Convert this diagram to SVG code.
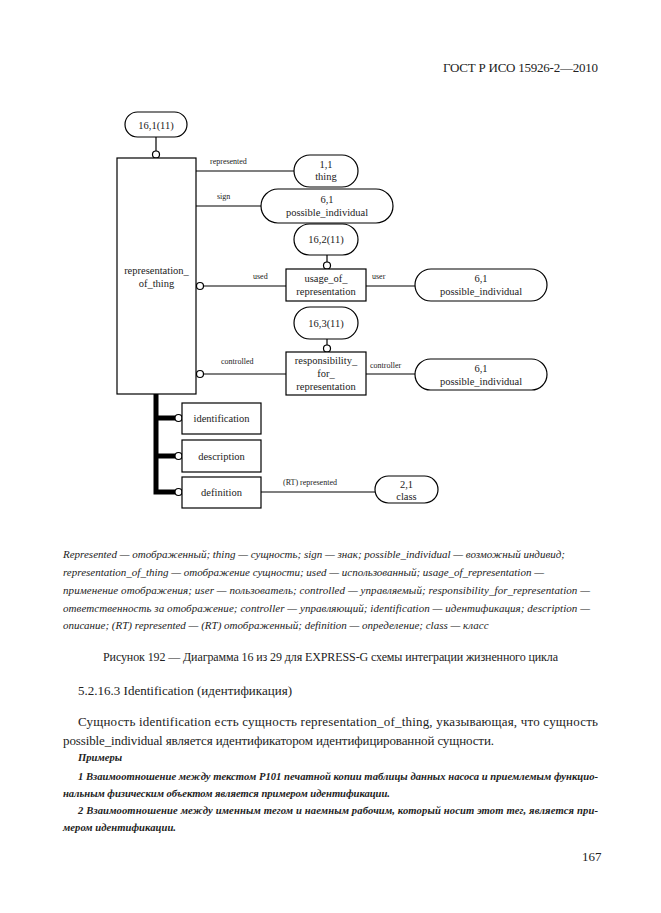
<svg xmlns="http://www.w3.org/2000/svg" width="661" height="913" viewBox="0 0 661 913">
<style>
.bx{fill:#fff;stroke:#000;stroke-width:1.2}
.ln{fill:none;stroke:#000;stroke-width:1.2}
.th{fill:none;stroke:#000;stroke-width:5}
.ci{fill:#fff;stroke:#000;stroke-width:1.2}
.t{font-family:"Liberation Serif",serif;font-size:10.5px;fill:#222;text-anchor:middle}
.lb{font-family:"Liberation Serif",serif;font-size:8px;fill:#222}
.fn{font-family:"Liberation Serif",serif;font-size:11px;font-style:italic;fill:#222}
.bd{font-family:"Liberation Serif",serif;font-size:13px;fill:#222}
.ex{font-family:"Liberation Serif",serif;font-size:10.6px;font-style:italic;font-weight:bold;fill:#222}
</style>
<rect width="661" height="913" fill="#fff"/>
<text class="bd" x="443" y="72" textLength="155">ГОСТ Р ИСО 15926-2—2010</text>

<g id="connectors">
<line class="ln" x1="156" y1="137" x2="156" y2="151"/>
<line class="ln" x1="196" y1="171" x2="294" y2="171"/>
<line class="ln" x1="196" y1="206" x2="261" y2="206"/>
<line class="ln" x1="203.5" y1="286" x2="286" y2="286"/>
<line class="ln" x1="366" y1="286" x2="415" y2="286"/>
<line class="ln" x1="327" y1="255" x2="327" y2="262"/>
<line class="ln" x1="203.5" y1="374" x2="286" y2="374"/>
<line class="ln" x1="366" y1="374" x2="415" y2="374"/>
<line class="ln" x1="327" y1="339" x2="327" y2="345"/>
<line class="ln" x1="261" y1="492" x2="375" y2="492"/>
<path class="th" d="M156 394 V492 H175 M156 418 H175 M156 456 H175"/>
<circle class="ci" cx="156" cy="154.5" r="3.5"/>
<circle class="ci" cx="200" cy="286" r="3.5"/>
<circle class="ci" cx="200" cy="374" r="3.5"/>
<circle class="ci" cx="327" cy="265.5" r="3.5"/>
<circle class="ci" cx="327" cy="348.5" r="3.5"/>
<circle class="ci" cx="178.5" cy="418" r="3.5"/>
<circle class="ci" cx="178.5" cy="456" r="3.5"/>
<circle class="ci" cx="178.5" cy="492" r="3.5"/>
<text class="lb" x="210" y="164">represented</text>
<text class="lb" x="217" y="199">sign</text>
<text class="lb" x="253" y="279">used</text>
<text class="lb" x="372" y="279">user</text>
<text class="lb" x="221" y="364">controlled</text>
<text class="lb" x="370" y="368">controller</text>
<text class="lb" x="283" y="485">(RT) represented</text>
</g>

<g id="n161">
<rect class="bx" x="125" y="112" width="62" height="25" rx="12.5"/>
<text class="t" x="156" y="129">16,1(11)</text>
</g>
<g id="representation_of_thing">
<rect class="bx" x="117" y="158" width="79" height="236"/>
<text class="t" x="156.5" y="274">representation_</text>
<text class="t" x="156.5" y="287">of_thing</text>
</g>
<g id="thing">
<rect class="bx" x="294" y="155" width="64" height="32" rx="16"/>
<text class="t" x="326" y="168">1,1</text>
<text class="t" x="326" y="180">thing</text>
</g>
<g id="possible_individual_1">
<rect class="bx" x="261" y="189" width="132" height="34" rx="17"/>
<text class="t" x="327" y="203">6,1</text>
<text class="t" x="327" y="216">possible_individual</text>
</g>
<g id="n162">
<rect class="bx" x="294" y="224" width="64" height="31" rx="15.5"/>
<text class="t" x="326" y="243">16,2(11)</text>
</g>
<g id="usage_of_representation">
<rect class="bx" x="286" y="269" width="80" height="32"/>
<text class="t" x="326" y="282">usage_of_</text>
<text class="t" x="326" y="295">representation</text>
</g>
<g id="possible_individual_2">
<rect class="bx" x="415" y="269" width="132" height="32" rx="16"/>
<text class="t" x="481" y="282">6,1</text>
<text class="t" x="481" y="295">possible_individual</text>
</g>
<g id="n163">
<rect class="bx" x="294" y="307" width="64" height="32" rx="16"/>
<text class="t" x="326" y="327">16,3(11)</text>
</g>
<g id="responsibility_for_representation">
<rect class="bx" x="286" y="352" width="80" height="43"/>
<text class="t" x="326" y="364">responsibility_</text>
<text class="t" x="326" y="377">for_</text>
<text class="t" x="326" y="390">representation</text>
</g>
<g id="possible_individual_3">
<rect class="bx" x="415" y="359" width="132" height="31" rx="15.5"/>
<text class="t" x="481" y="372">6,1</text>
<text class="t" x="481" y="385">possible_individual</text>
</g>
<g id="identification">
<rect class="bx" x="182" y="403" width="79" height="31"/>
<text class="t" x="221.5" y="422">identification</text>
</g>
<g id="description">
<rect class="bx" x="182" y="440" width="79" height="32"/>
<text class="t" x="221.5" y="460">description</text>
</g>
<g id="definition">
<rect class="bx" x="182" y="477" width="79" height="31"/>
<text class="t" x="221.5" y="496">definition</text>
</g>
<g id="class">
<rect class="bx" x="375" y="476" width="63" height="27" rx="13.5"/>
<text class="t" x="406.5" y="488">2,1</text>
<text class="t" x="406.5" y="500">class</text>
</g>

<text class="fn" x="63" y="558">Represented — отображенный; thing — сущность; sign — знак; possible_individual — возможный индивид;</text>
<text class="fn" x="63" y="576">representation_of_thing — отображение сущности; used — использованный; usage_of_representation —</text>
<text class="fn" x="63" y="594" textLength="527">применение отображения; user — пользователь; controlled — управляемый; responsibility_for_representation —</text>
<text class="fn" x="63" y="612" textLength="527">ответственность за отображение; controller — управляющий; identification — идентификация; description —</text>
<text class="fn" x="63" y="629">описание; (RT) represented — (RT) отображенный; definition — определение; class — класс</text>

<text class="bd" x="103" y="661" textLength="455" style="font-size:12px">Рисунок 192 — Диаграмма 16 из 29 для EXPRESS-G схемы интеграции жизненного цикла</text>
<text class="bd" x="78" y="695" textLength="214">5.2.16.3 Identification (идентификация)</text>
<text class="bd" x="78" y="726" textLength="520">Сущность identification есть сущность representation_of_thing, указывающая, что сущность</text>
<text class="bd" x="63" y="745" textLength="431">possible_individual является идентификатором идентифицированной сущности.</text>
<text class="ex" x="78" y="761">Примеры</text>
<text class="ex" x="78" y="780" textLength="520">1 Взаимоотношение между текстом Р101 печатной копии таблицы данных насоса и приемлемым функцио-</text>
<text class="ex" x="63" y="797" textLength="327">нальным физическим объектом является примером идентификации.</text>
<text class="ex" x="78" y="814" textLength="520">2 Взаимоотношение между именным тегом и наемным рабочим, который носит этот тег, является при-</text>
<text class="ex" x="63" y="831" textLength="113">мером идентификации.</text>
<text class="bd" x="582" y="861">167</text>
</svg>
